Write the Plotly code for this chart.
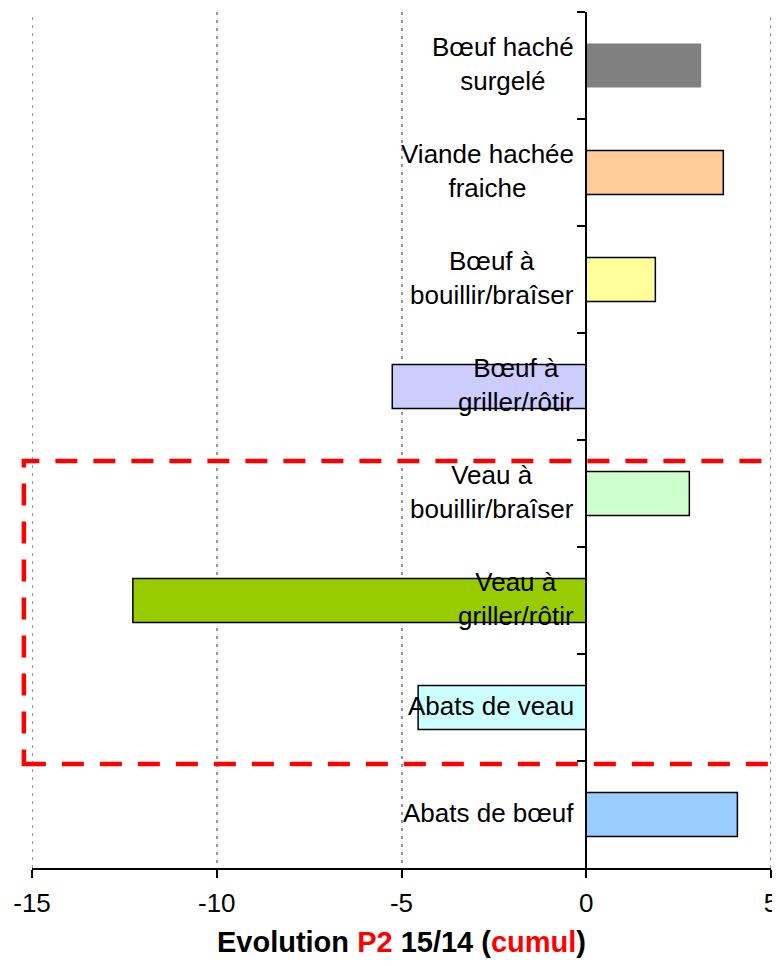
import plotly.graph_objects as go

# categories top to bottom
categories = ["Bœuf haché<br>surgelé", "Viande hachée<br>fraiche", "Bœuf à<br>bouillir/braîser",
              "Bœuf à<br>griller/rôtir", "Veau à<br>bouillir/braîser", "Veau à<br>griller/rôtir",
              "Abats de veau", "Abats de bœuf"]
evolution = [3.11, 3.71, 1.87, -5.25, 2.79, -12.27, -4.55, 4.09]
bar_colors = ["#808080", "#FFCC99", "#FFFF99", "#CCCCFF", "#CCFFCC", "#99CC00", "#CCFFFF", "#99CCFF"]
outline_w = [0, 1.5, 1.5, 1.5, 1.5, 1.5, 1.5, 1.5]
x_ticks = [-15, -10, -5, 0, 5]
x_ticktext = ["-15", "-10", "-5", "0", "5"]

FONT = "Liberation Sans, Arial, sans-serif"
GRID = "#999999"

fig = go.Figure()
fig.add_trace(go.Bar(
    y=categories, x=evolution, orientation="h",
    marker=dict(color=bar_colors, line=dict(color="black", width=outline_w)),
    hoverinfo="x+y",
))

# category labels sit just left of the zero axis
for cat in categories:
    fig.add_annotation(x=0, y=cat, xref="x", yref="y", text=cat, showarrow=False,
                       xanchor="right", yanchor="middle", xshift=-10, yshift=2, align="center",
                       font=dict(family=FONT, size=26, color="black"))

# plotly skips gridlines on the range edges, draw them by hand
for xv in (x_ticks[0], x_ticks[-1]):
    fig.add_shape(type="line", xref="x", yref="paper", x0=xv, x1=xv, y0=0, y1=1,
                  line=dict(color=GRID, width=2, dash="3px,5px"), layer="below")

# red dashed box around the veal group
fig.add_shape(type="rect", xref="paper", yref="paper",
              x0=-0.011, x1=1.08, y0=0.1215, y1=0.4755,
              line=dict(color="#FF0000", width=4.5, dash="22px,16px"),
              fillcolor="rgba(0,0,0,0)", layer="above")

title0 = ("<b>Evolution <span style='color:#FF0000'>P2</span> 15/14 "
          "(<span style='color:#FF0000'>cumul</span>)</b>")

# page body has an 8px margin, so the figure is smaller and shifted
fig.update_layout(
    width=772, height=950,
    margin=dict(l=24, r=9, t=4, b=90),
    paper_bgcolor="white", plot_bgcolor="white",
    showlegend=False,
    bargap=0.59,
    font=dict(family=FONT, color="black"),
    xaxis=dict(
        range=[-15, 5], tickvals=x_ticks, ticktext=x_ticktext,
        showgrid=True, gridcolor=GRID, gridwidth=2, griddash="3px,5px",
        zeroline=False,
        showline=True, linecolor="black", linewidth=2,
        ticks="outside", ticklen=8, tickwidth=2, tickcolor="black",
        tickfont=dict(family=FONT, size=26, color="black"),
        ticklabelstandoff=3, ticklabeloverflow="allow",
        title=dict(text=title0, font=dict(family=FONT, size=29, color="black"), standoff=17),
        automargin=False,
        fixedrange=True,
    ),
    yaxis=dict(
        categoryorder="array", categoryarray=categories, autorange="reversed",
        anchor="free", position=0.75,
        showline=True, linecolor="black", linewidth=2,
        ticks="outside", ticklen=8, tickwidth=2, tickcolor="black", tickson="boundaries",
        showticklabels=False, showgrid=False, zeroline=False,
        automargin=False,
        fixedrange=True,
    ),
)

fig.write_html("out.html")
